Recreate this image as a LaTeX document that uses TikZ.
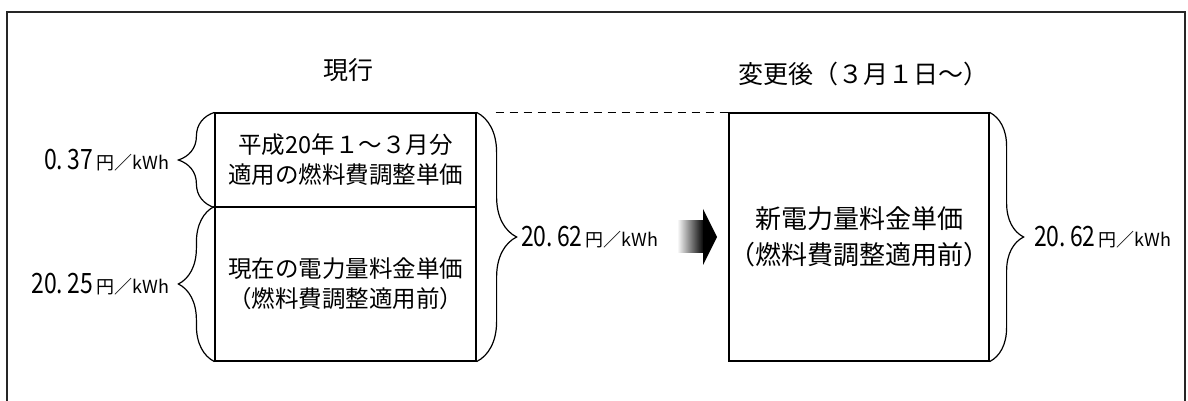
\documentclass[tikz,border=0pt]{standalone}
\usepackage{fontspec}
\setmainfont{Noto Sans CJK JP}
\newfontfamily\numfont[FakeStretch=0.82]{Noto Sans CJK JP}
\usepackage{tikz}
\usetikzlibrary{calc,positioning,decorations.pathreplacing}
\newcommand{\price}[2]{{\numfont\fontsize{14}{16}\selectfont #1.\hspace{.15em}#2}\,{\fontsize{9}{10}\selectfont 円／kWh}}

\begin{document}
\begin{tikzpicture}[x=0.5pt,y=0.5pt]
	\tikzset{price box/.style={draw,line width=0.6pt,inner sep=0pt,align=center,minimum width=130.5pt},
		price brace/.style={decorate,decoration={brace,amplitude=#1},line width=0.6pt},
		price label/.style={inner sep=0pt}}
	\useasboundingbox (0,0) rectangle (1188,401);
	\draw [line width=1pt,black!85] (7,-5) -- (7,389) -- (1185,389) -- (1185,-5);
	\node [font=\fontsize{12.5}{15}\selectfont] (now) at (348,331) {現行};
	\node [font=\fontsize{12.5}{15}\selectfont] (after) at (863,327) {変更後（３月１日～）};
	\node [price box,minimum height=47pt,font=\fontsize{11.75}{15}\selectfont] (fuel) at (345.5,241) {平成20年１～３月分\\適用の燃料費調整単価};
	\node [price box,minimum height=77pt,font=\fontsize{11.75}{15}\selectfont] (base) at (345.5,117) {現在の電力量料金単価\\（燃料費調整適用前）};
	\node [price box,minimum width=130pt,minimum height=124pt,font=\fontsize{13}{18}\selectfont] (new) at (859,164) {新電力量料金単価\\（燃料費調整適用前）};
	\draw [price brace=18pt] (fuel.south west) -- (fuel.north west);
	\draw [price brace=18pt] (base.south west) -- (base.north west);
	\draw [price brace=20pt] (fuel.north east) -- (base.south east);
	\draw [price brace=17pt] (new.north east) -- (new.south east);
	\coordinate (total) at ($(fuel.north east)!0.5!(base.south east)$);
	\node [price label,anchor=east] (fuelprice) at ([xshift=-22.5pt]fuel.west) {\price{0}{37}};
	\node [price label,anchor=east] (baseprice) at ([xshift=-22.5pt]base.west) {\price{20}{25}};
	\node [price label,anchor=west] (oldtotal) at ([xshift=22pt]total) {\price{20}{62}};
	\node [price label,anchor=west] (newtotal) at ([xshift=22pt]new.east) {\price{20}{62}};
	\draw [dash pattern=on 4pt off 3pt,line width=0.6pt] ([xshift=9.5pt]fuel.north east) -- (new.north west);
	\shade [left color=white,right color=black] (677,148) rectangle (704,180);
	\fill (703,136) -- (717,164) -- (703,192) -- cycle;
\end{tikzpicture}
\end{document}
